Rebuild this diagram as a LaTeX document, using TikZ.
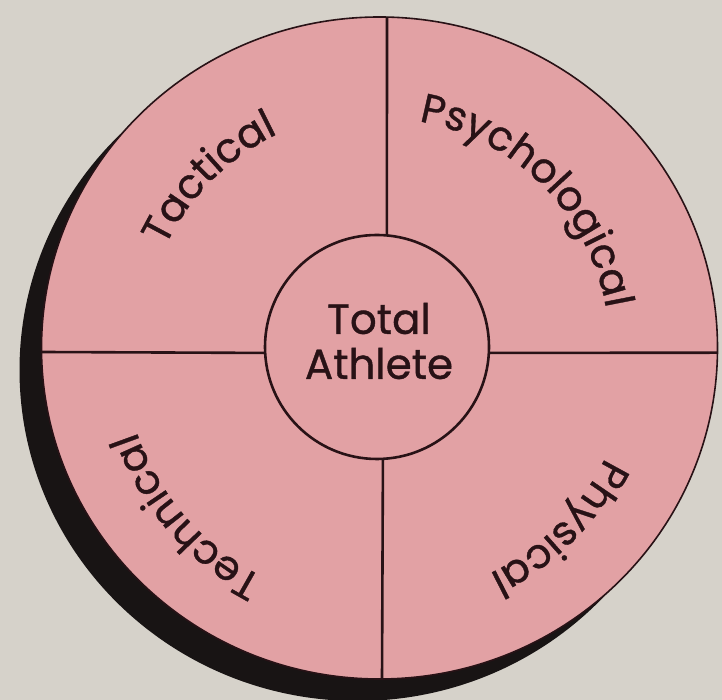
\documentclass[tikz,border=0pt]{standalone}
\usepackage{fontspec}
\setmainfont{Poppins}[FakeBold=0.9]
\usetikzlibrary{decorations.text}

\definecolor{wheelpink}{RGB}{226,161,164}
\definecolor{paper}{RGB}{214,210,202}
\definecolor{inkline}{RGB}{40,18,22}
\definecolor{shadowblack}{RGB}{24,20,20}
\newcommand{\labelfont}{\fontsize{41}{44}\selectfont}

\begin{document}
\begin{tikzpicture}[
        x=1pt, y=1pt,
        hub/.style={circle, draw=inkline, line width=2.6pt, minimum size=224pt, inner sep=0pt},
        hubtext/.style={align=center, text=inkline, font=\fontsize{42}{45}\selectfont},
        divider/.style={draw=inkline, line width=2.6pt},
        ringtext/.style={decorate, decoration={text along path, text align=center, text color=inkline}}
    ]

    % Paper
    \fill[paper] (0,0) rectangle (722,700);
    \useasboundingbox (0,0) rectangle (722,700);

    % Shadow and wheel
    \fill[shadowblack] (357.5,330) ellipse [x radius=338, y radius=331];
    \filldraw[fill=wheelpink, draw=inkline, line width=1.6pt] (379.5,352) ellipse [x radius=338, y radius=331];
    \coordinate (ring) at (379.5,352);

    % Hub
    \node[hub] (hub) at (377,353) {};
    \node[hubtext] (hubtext) at (379,359) {Total\\Athlete};

    % Rim points
    \coordinate (rimN) at (387,683);
    \coordinate (rimS) at (382,21);
    \coordinate (rimW) at (41.5,348);
    \coordinate (rimE) at (717.5,347.3);

    % Dividers
    \draw[divider] (rimN) -- (hub.85);
    \draw[divider] (rimS) -- (hub.273);
    \draw[divider] (rimW) -- (hub.183);
    \draw[divider] (rimE) -- (hub.357);

    % Quarter labels
    \path[ringtext, decoration={text={|\labelfont|Tactical}}]
        ([shift={(195:237)}]ring) arc[start angle=195, end angle=75, radius=237];
    \path[ringtext, decoration={text={|\labelfont|Psychological}}]
        ([shift={(110:230)}]ring) arc[start angle=110, end angle=-20, radius=230];
    \path[ringtext, decoration={text={|\labelfont|Technical}}]
        ([shift={(281:257)}]ring) arc[start angle=281, end angle=161, radius=257];
    \path[ringtext, decoration={text={|\labelfont|Physical}}]
        ([shift={(375:251)}]ring) arc[start angle=375, end angle=255, radius=251];

\end{tikzpicture}
\end{document}
